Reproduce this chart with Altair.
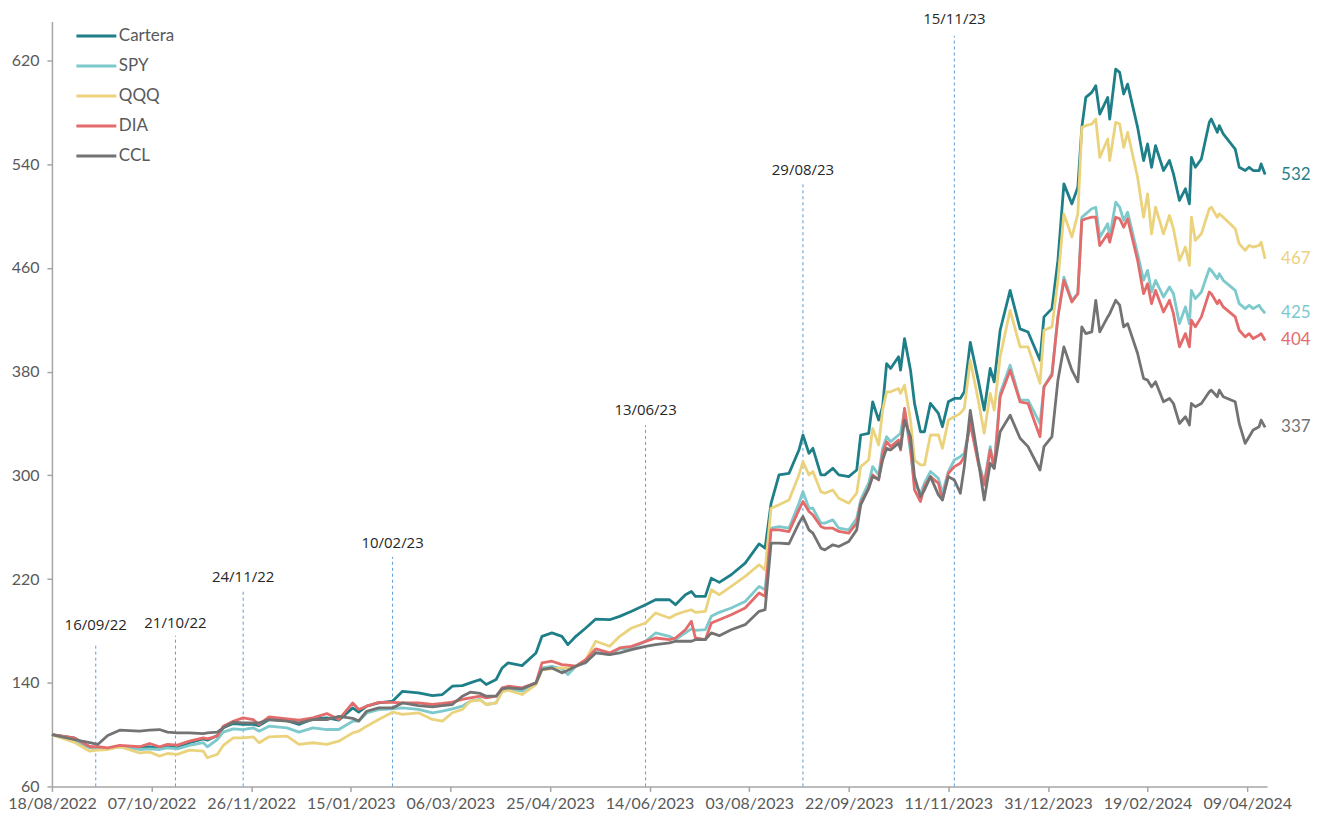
import altair as alt
import pandas as pd

start_date = "2022-08-18"

day_offsets = [0, 11, 19, 23, 28, 34, 44, 49, 54, 58, 63, 69, 76, 78, 83, 86, 91, 96, 101, 104,
               109, 118, 124, 131, 138, 144, 151, 154, 158, 164, 171, 176, 184, 191, 196, 201, 206, 210, 215, 218,
               223, 226, 229, 236, 243, 246, 251, 256, 259, 263, 268, 273, 280, 285, 291, 298, 303, 310, 313, 318,
               321, 323, 328, 331, 335, 341, 348, 355, 358, 361, 365, 370, 375, 377, 380, 382, 386, 388, 392, 395,
               400, 404, 406, 410, 412, 415, 417, 419, 421, 425, 426, 428, 431, 433, 436, 438, 441, 445, 447, 450,
               453, 456, 458, 461, 465, 468, 471, 473, 476, 481, 486, 490, 496, 498, 502, 505, 508, 512, 515, 517,
               519, 522, 524, 526, 530, 531, 534, 536, 538, 540, 545, 548, 550, 552, 554, 558, 561, 563, 566, 569,
               571, 572, 574, 577, 581, 582, 585, 586, 588, 594, 596, 599, 601, 603, 606, 607, 609]

cartera = [100, 97.5, 90.6, 89.8, 89.0, 91.1, 89.8, 90.6, 89.5, 90.6, 89.8, 93.7, 96.7, 95.7, 99.3, 105.2, 108.5, 107.8, 107.8, 107.0,
           111.6, 110.8, 107.8, 112.1, 112.9, 111.1, 120.6, 117.3, 121.9, 124.4, 125.7, 133.4, 132.2, 130.1, 130.9, 137.3, 137.8, 139.9, 142.5, 138.6,
           142.5, 151.4, 155.3, 153.2, 163.0, 175.8, 178.4, 175.8, 169.4, 175.8, 182.2, 189.1, 188.6, 191.2, 195.1, 200.2, 204.0, 204.0, 200.2, 207.9,
           210.4, 206.6, 206.6, 220.7, 217.4, 223.3, 232.3, 247.1, 243.8, 278.4, 300.3, 301.5, 319.5, 331.1, 317.0, 320.8, 300.3, 300.3, 305.4, 300.3,
           299.0, 304.1, 331.1, 332.4, 356.7, 342.6, 352.9, 386.2, 382.4, 391.4, 381.1, 405.5, 381.1, 355.5, 333.6, 333.6, 355.5, 347.8, 337.5, 356.7,
           359.3, 359.3, 364.4, 402.6, 373.4, 350.3, 382.4, 372.1, 411.9, 442.7, 413.0, 410.6, 388.8, 422.2, 428.6, 465.8, 524.8, 509.4, 522.2, 568.4,
           591.5, 595.4, 600.5, 578.7, 591.5, 574.8, 613.3, 610.8, 594.1, 601.8, 568.4, 542.8, 555.6, 537.6, 554.3, 535.1, 542.8, 532.5, 512.0, 521.0,
           509.4, 545.3, 537.6, 544.0, 572.3, 574.8, 564.6, 569.7, 563.3, 551.7, 537.6, 535.1, 537.6, 535.1, 535.1, 540.2, 532]

spy = [100, 94.9, 89.8, 89.0, 89.0, 90.6, 88.5, 89.0, 88.5, 89.8, 89.0, 91.6, 93.7, 90.6, 96.2, 101.9, 104.4, 103.9, 105.2, 102.6,
       106.5, 105.2, 101.9, 105.2, 103.9, 103.9, 110.3, 110.3, 116.7, 119.3, 119.8, 120.6, 119.4, 116.8, 118.1, 119.9, 121.9, 125.8, 127.1, 123.2,
       124.5, 133.5, 134.8, 133.5, 139.4, 151.4, 152.7, 150.7, 146.3, 152.7, 155.3, 163.5, 161.7, 166.1, 166.8, 171.9, 178.4, 175.8, 173.2, 178.4,
       181.5, 180.4, 180.9, 191.2, 194.3, 197.6, 202.7, 214.3, 211.7, 259.2, 260.5, 259.2, 278.4, 287.4, 274.6, 274.6, 263.1, 263.1, 265.6, 259.2,
       257.9, 266.9, 281.0, 293.9, 306.7, 300.3, 320.8, 329.8, 325.9, 331.1, 332.4, 350.3, 318.2, 293.9, 286.2, 293.9, 302.9, 297.7, 286.2, 302.9,
       311.8, 314.4, 317.0, 340.0, 311.8, 293.9, 322.1, 306.7, 363.2, 384.9, 358.0, 358.0, 340.0, 368.3, 378.6, 422.2, 452.9, 435.0, 440.1, 499.1,
       501.7, 505.6, 506.8, 483.7, 494.0, 483.7, 510.7, 506.8, 496.6, 503.0, 470.9, 450.4, 458.1, 441.4, 450.4, 437.6, 445.3, 440.1, 417.0, 429.9,
       417.0, 442.7, 436.3, 441.4, 459.4, 458.1, 451.7, 455.5, 450.4, 442.7, 432.4, 428.6, 431.2, 428.6, 431.2, 428.6, 425]

qqq = [100, 94.2, 87.2, 88.0, 88.5, 90.6, 85.9, 86.5, 83.4, 85.4, 84.7, 88.0, 87.2, 82.1, 84.7, 91.6, 97.5, 97.5, 98.3, 93.7,
       98.3, 98.8, 92.4, 93.7, 92.4, 94.9, 101.3, 102.6, 106.5, 111.6, 117.3, 115.5, 116.8, 111.7, 110.4, 116.8, 119.4, 125.8, 126.5, 123.2,
       124.5, 132.7, 134.2, 130.9, 138.6, 150.2, 150.7, 151.4, 151.4, 152.7, 157.8, 172.0, 168.1, 175.8, 182.2, 186.1, 193.8, 189.9, 192.5, 195.1,
       196.3, 194.3, 195.1, 211.7, 207.9, 214.3, 222.0, 231.0, 227.1, 274.6, 277.2, 281.0, 300.3, 310.5, 300.3, 302.9, 287.4, 286.2, 288.7, 282.3,
       278.5, 286.2, 306.7, 311.8, 336.2, 323.4, 350.3, 364.4, 364.4, 367.0, 363.2, 369.6, 342.6, 311.8, 308.0, 308.0, 331.1, 331.1, 320.8, 342.6,
       345.2, 347.8, 351.6, 388.8, 358.0, 332.4, 363.2, 350.3, 391.4, 427.3, 399.0, 399.1, 370.9, 411.9, 414.5, 450.4, 501.7, 483.7, 501.7, 568.4,
       569.7, 571.0, 574.8, 545.3, 559.4, 542.8, 572.3, 571.0, 553.0, 564.6, 529.9, 499.1, 517.1, 486.3, 506.8, 486.3, 500.4, 490.2, 465.8, 476.1,
       461.9, 499.1, 481.2, 486.3, 505.6, 506.8, 499.1, 501.7, 499.1, 490.2, 478.6, 473.5, 477.3, 476.1, 477.3, 479.9, 467]

dia = [100, 97.5, 90.6, 90.6, 89.8, 91.6, 90.6, 93.1, 90.6, 92.4, 91.9, 94.9, 97.5, 96.7, 98.8, 106.5, 110.3, 112.9, 111.6, 107.8,
       113.7, 112.1, 111.1, 112.9, 116.2, 111.6, 124.4, 119.3, 121.9, 124.9, 124.9, 124.4, 124.5, 123.2, 124.0, 125.0, 127.1, 128.3, 129.6, 128.3,
       129.6, 136.0, 137.3, 136.0, 139.9, 155.3, 156.6, 154.0, 153.5, 152.7, 157.8, 166.1, 163.0, 166.8, 168.1, 171.9, 174.5, 173.2, 174.5, 180.9,
       187.4, 174.5, 173.2, 186.1, 188.6, 192.5, 197.6, 209.2, 206.6, 257.9, 257.9, 256.6, 273.3, 279.8, 272.1, 269.5, 260.5, 259.2, 259.2, 256.7,
       255.4, 263.1, 278.5, 290.0, 300.3, 296.4, 317.0, 325.9, 322.1, 327.2, 319.5, 351.6, 322.1, 288.7, 279.8, 291.3, 299.0, 293.9, 281.0, 301.6,
       306.7, 309.3, 314.4, 340.0, 309.3, 292.6, 319.5, 305.4, 360.6, 381.1, 356.7, 355.4, 329.8, 368.3, 377.3, 422.2, 450.4, 433.7, 440.1, 496.6,
       497.9, 499.1, 499.1, 477.3, 486.3, 479.9, 499.1, 497.9, 491.4, 497.9, 465.8, 440.1, 447.8, 432.4, 442.7, 426.0, 435.0, 424.7, 399.1, 409.3,
       399.1, 419.6, 414.5, 422.2, 441.4, 440.1, 432.4, 435.0, 429.9, 422.2, 411.9, 406.8, 409.3, 405.5, 408.0, 409.3, 404]

ccl = [100, 96.2, 93.7, 92.4, 99.3, 103.4, 102.6, 103.4, 103.9, 101.9, 101.3, 101.3, 100.8, 101.3, 101.9, 105.2, 109.6, 109.0, 109.0, 109.0,
       111.6, 110.3, 109.0, 111.6, 111.6, 114.0, 112.5, 110.5, 118.0, 120.6, 120.6, 124.4, 122.4, 121.4, 122.4, 123.2, 129.6, 132.7, 131.7, 129.6,
       129.6, 135.3, 136.0, 135.3, 139.9, 150.2, 151.4, 147.6, 149.6, 152.7, 155.8, 163.0, 161.7, 163.0, 165.5, 168.1, 169.4, 170.7, 172.0, 172.0,
       172.0, 173.2, 173.2, 178.4, 176.3, 180.9, 184.8, 195.1, 196.3, 247.7, 247.7, 247.2, 263.1, 268.2, 257.9, 255.4, 243.8, 242.5, 246.4, 245.1,
       249.0, 257.9, 277.2, 290.0, 299.0, 297.0, 311.8, 320.8, 319.5, 324.7, 320.8, 342.6, 329.8, 299.0, 283.6, 288.7, 299.0, 284.9, 281.0, 299.0,
       296.4, 286.2, 306.7, 350.0, 311.8, 281.0, 309.3, 305.4, 333.6, 346.4, 328.6, 322.1, 304.1, 322.1, 329.8, 373.4, 399.1, 381.1, 372.1, 414.5,
       409.3, 410.6, 435.0, 410.6, 422.2, 424.7, 435.0, 431.2, 414.5, 417.0, 394.0, 374.7, 373.4, 368.3, 372.1, 356.7, 359.3, 355.4, 340.0, 345.2,
       338.8, 355.4, 352.9, 355.4, 364.4, 365.7, 360.6, 365.7, 360.6, 356.7, 340.0, 324.7, 329.8, 334.9, 337.5, 342.6, 337]

series_names = ["Cartera", "SPY", "QQQ", "DIA", "CCL"]
series_colors = ["#1F7F89", "#7DC9CC", "#EBD37E", "#E46B6B", "#737373"]

x_tick_dates = ["2022-08-18", "2022-10-07", "2022-11-26", "2023-01-15", "2023-03-06", "2023-04-25", "2023-06-14",
                "2023-08-03", "2023-09-22", "2023-11-11", "2023-12-31", "2024-02-19", "2024-04-09"]
x_domain_dates = ["2022-08-18", "2024-04-19"]
y_ticks = [60, 140, 220, 300, 380, 460, 540, 620]
y_domain = [60, 650]

event_labels = ["16/09/22", "21/10/22", "24/11/22", "10/02/23", "13/06/23", "29/08/23", "15/11/23"]
event_offsets = [22, 62, 96, 171, 298, 377, 453]
event_tops = [170.9, 176.3, 212.4, 237.1, 338.7, 525.0, 639.0]
event_label_values = [184.7, 186.3, 221.7, 247.9, 350.3, 535.8, 651.8]


def ms(s):
    return int(pd.Timestamp(s, tz="UTC").timestamp() * 1000)


start = pd.Timestamp(start_date)
dates = [(start + pd.Timedelta(days=d)).strftime("%Y-%m-%d") for d in day_offsets]

rows = []
for name, vals in zip(series_names, [cartera, spy, qqq, dia, ccl]):
    for dt, v in zip(dates, vals):
        rows.append({"date": dt, "series": name, "value": v})
df = pd.DataFrame(rows)
df_end = df[df["date"] == dates[-1]].copy()

ev = pd.DataFrame({
    "date": [(start + pd.Timedelta(days=d)).strftime("%Y-%m-%d") for d in event_offsets],
    "base": [y_domain[0]] * len(event_offsets),
    "top": event_tops,
    "label_y": event_label_values,
    "label": event_labels,
})

AXIS_GREY = "#A6A6A6"
LABEL_GREY = "#595959"
FONT = "Lato"

x_scale = alt.Scale(type="utc", domain=[ms(d) for d in x_domain_dates])
y_scale = alt.Scale(domain=y_domain, nice=False, zero=False)

x_axis = alt.Axis(values=[ms(d) for d in x_tick_dates],
                  labelExpr="utcFormat(datum.value, '%d/%m/%Y')",
                  labelFont=FONT, labelFontSize=16, labelColor=LABEL_GREY,
                  domainColor=AXIS_GREY, domainWidth=1.5, tickColor=AXIS_GREY, tickSize=5, tickWidth=1.5,
                  labelPadding=4, grid=False, labelOverlap=False, labelFlush=False, title=None)
y_axis = alt.Axis(values=y_ticks, labelFont=FONT, labelFontSize=16, labelColor=LABEL_GREY,
                  domainColor=AXIS_GREY, domainWidth=1.5, tickColor=AXIS_GREY, tickSize=5, tickWidth=1.5,
                  labelPadding=8, grid=False, labelOverlap=False, title=None)

color_scale = alt.Scale(domain=series_names, range=series_colors)

rules = alt.Chart(ev).mark_rule(color="#5B9BD5", strokeWidth=1, strokeDash=[3, 3]).encode(
    x=alt.X("date:T", scale=x_scale, axis=x_axis),
    y=alt.Y("base:Q", scale=y_scale, axis=y_axis),
    y2="top:Q",
)

ev_text = alt.Chart(ev).mark_text(font="Open Sans", fontSize=15, color="#262626",
                                  align="center", baseline="middle").encode(
    x="date:T",
    y="label_y:Q",
    text="label:N",
)

lines = alt.Chart(df).mark_line(strokeWidth=2.8, strokeJoin="round").encode(
    x=alt.X("date:T", scale=x_scale, axis=x_axis),
    y=alt.Y("value:Q", scale=y_scale, axis=y_axis),
    color=alt.Color("series:N", scale=color_scale, sort=series_names,
                    legend=alt.Legend(title=None, orient="none", legendX=23, legendY=-7,
                                      symbolType="stroke", symbolSize=1600, symbolStrokeWidth=3,
                                      labelFont=FONT, labelFontSize=17, labelColor=LABEL_GREY,
                                      labelOffset=1, rowPadding=0, padding=0)),
)

end_labels = alt.Chart(df_end).mark_text(font=FONT, fontSize=17, align="left", baseline="middle", dx=16).encode(
    x="date:T",
    y="value:Q",
    text=alt.Text("value:Q", format=".0f"),
    color=alt.Color("series:N", scale=color_scale, legend=None),
)

chart = alt.layer(rules, ev_text, lines, end_labels).properties(
    width=1217, height=766,
    autosize=alt.AutoSizeParams(type="none"),
    padding={"left": 44, "top": 13, "right": 60, "bottom": 28},
).configure_view(stroke=None)

chart.save("out.html", embed_options={"renderer": "svg", "actions": False})
